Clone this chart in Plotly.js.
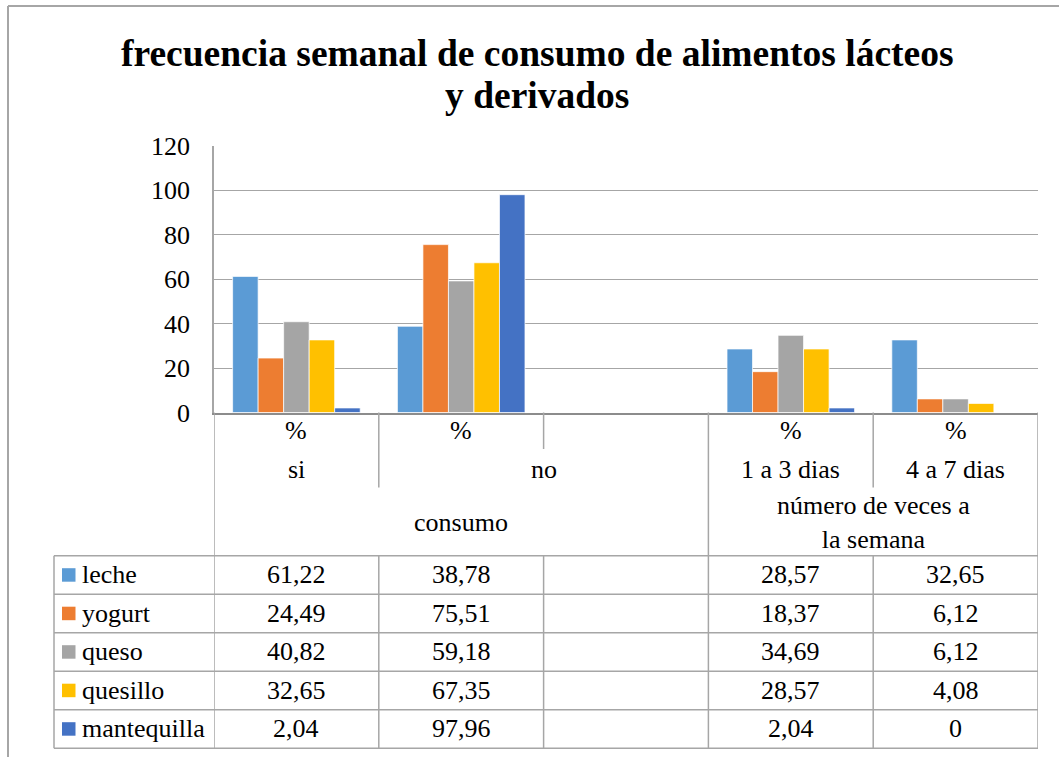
<!DOCTYPE html>
<html><head><meta charset="utf-8">
<script src="https://cdn.plot.ly/plotly-3.0.1.min.js"></script>
<style>html,body{margin:0;padding:0;background:#fff}#chart{width:1059px;height:757px}</style>
</head><body><div id="chart"></div>
<script>
// ---- data ----
const categories = ["si", "no", "", "1 a 3 dias", "4 a 7 dias"];
const level1Labels = ["%", "%", "", "%", "%"];
const level2Labels = ["si", "no", "1 a 3 dias", "4 a 7 dias"];
const level2Start = [0, 1, 3, 4];
const level2End = [0, 2, 3, 4];
const level3Labels = ["consumo", "número de veces a<br>la semana"];
const level3Start = [0, 3];
const level3End = [2, 4];
const seriesNames = ["leche", "yogurt", "queso", "quesillo", "mantequilla"];
const leche = [61.22, 38.78, null, 28.57, 32.65];
const yogurt = [24.49, 75.51, null, 18.37, 6.12];
const queso = [40.82, 59.18, null, 34.69, 6.12];
const quesillo = [32.65, 67.35, null, 28.57, 4.08];
const mantequilla = [2.04, 97.96, null, 2.04, 0];
const yTicks = [0, 20, 40, 60, 80, 100, 120];
const titleLines = ["frecuencia semanal de consumo de alimentos lácteos", "y derivados"];

// ---- style / layout ----
const seriesValues = [leche, yogurt, queso, quesillo, mantequilla];
const colors = ["#5B9BD5", "#ED7D31", "#A5A5A5", "#FFC000", "#4472C4"];
const W = 1059, H = 757;
const FONT = "'Liberation Serif', 'Times New Roman', serif";
const FS = 26;
const py = v => 1 - v / H;
const px = v => v / W;
const xDomain = [px(214), px(1038)];
const yDomain = [py(412.5), py(145.7)];
const L1_BOTTOM = 449, L2_BOTTOM = 487.5, TABLE_TOP = 555.7, ROW_H = 38.5;
const TABLE_BOTTOM = TABLE_TOP + ROW_H * seriesNames.length;
const LEG_LEFT = 54;
const lineCol = "#a6a6a6", gridCol = "#a6a6a6", axisCol = "#8c8c8c";

const xIdx = categories.map((_, i) => i);
const traces = seriesNames.map((n, k) => ({
  type: "bar", name: n, x: xIdx, y: seriesValues[k],
  marker: { color: colors[k], line: { color: "rgba(255,255,255,0.7)", width: 1 } },
  hoverinfo: "name+y"
}));

const shapes = [];
const annotations = [];
function vline(x, y0, y1, col, w) {
  shapes.push({ type: "line", xref: "x", yref: "paper", x0: x, x1: x, y0: py(y0), y1: py(y1), line: { color: col || lineCol, width: w || 1.5 } });
}
function hlinePaper(x0, x1, y, col, w) {
  shapes.push({ type: "line", xref: "paper", yref: "paper", x0: x0, x1: x1, y0: py(y), y1: py(y), line: { color: col || lineCol, width: w || 1.5 } });
}

// outer chart border (cropped)
shapes.push({ type: "line", xref: "paper", yref: "paper", x0: px(8), x1: px(8), y0: 0, y1: py(6), line: { color: "#a6a6a6", width: 2 } });
shapes.push({ type: "line", xref: "paper", yref: "paper", x0: px(8), x1: 1, y0: py(6), y1: py(6), line: { color: "#a6a6a6", width: 2 } });

// category axis edges and dividers
const n = categories.length;
vline(-0.5, 412.5, TABLE_BOTTOM);
vline(n - 0.5, 412.5, TABLE_BOTTOM);
for (let b = 1; b < n; b++) {
  let depth = L1_BOTTOM;
  if (level2Start.includes(b)) depth = L2_BOTTOM;
  if (level3Start.includes(b)) depth = TABLE_TOP;
  vline(b - 0.5, 412.5, depth);
  vline(b - 0.5, TABLE_TOP, TABLE_BOTTOM);
}

// level labels
const labFont = { family: FONT, size: FS, color: "#000" };
level1Labels.forEach((t, i) => {
  if (t) annotations.push({ xref: "x", yref: "paper", x: i, y: py((412.5 + L1_BOTTOM) / 2), text: t, showarrow: false, font: labFont, xanchor: "center", yanchor: "middle" });
});
level2Labels.forEach((t, j) => {
  annotations.push({ xref: "x", yref: "paper", x: (level2Start[j] + level2End[j]) / 2, y: py((L1_BOTTOM + L2_BOTTOM) / 2 + 1), text: t, showarrow: false, font: labFont, xanchor: "center", yanchor: "middle" });
});
level3Labels.forEach((t, j) => {
  annotations.push({ xref: "x", yref: "paper", x: (level3Start[j] + level3End[j]) / 2, y: py((L2_BOTTOM + TABLE_TOP) / 2 + 1), text: t, showarrow: false, font: labFont, xanchor: "center", yanchor: "middle" });
});

// data table
for (let r = 0; r <= seriesNames.length; r++) {
  hlinePaper(px(LEG_LEFT), xDomain[1], TABLE_TOP + r * ROW_H);
}
shapes.push({ type: "line", xref: "paper", yref: "paper", x0: px(LEG_LEFT), x1: px(LEG_LEFT), y0: py(TABLE_TOP), y1: py(TABLE_BOTTOM), line: { color: lineCol, width: 1.5 } });
const fmt = v => (v === null || v === undefined) ? "" : (v === 0 ? "0" : v.toFixed(2).replace(".", ","));
seriesNames.forEach((name, r) => {
  const cy = TABLE_TOP + (r + 0.5) * ROW_H;
  shapes.push({ type: "rect", xref: "paper", yref: "paper", x0: px(62), x1: px(75.5), y0: py(cy + 6.75), y1: py(cy - 6.75), fillcolor: colors[r], line: { width: 0 } });
  annotations.push({ xref: "paper", yref: "paper", x: px(80), y: py(cy), text: name, showarrow: false, font: labFont, xanchor: "left", yanchor: "middle" });
  seriesValues[r].forEach((v, i) => {
    const t = fmt(v);
    if (t) annotations.push({ xref: "x", yref: "paper", x: i, y: py(cy), text: t, showarrow: false, font: labFont, xanchor: "center", yanchor: "middle" });
  });
});

// title (two lines)
const titleY = [53, 95];
titleLines.forEach((t, k) => {
  annotations.push({ xref: "paper", yref: "paper", x: px(537), y: py(titleY[k]), text: "<b>" + t + "</b>", showarrow: false, font: { family: FONT, size: 37.5, color: "#000" }, xanchor: "center", yanchor: "middle" });
});

const layout = {
  width: W, height: H,
  margin: { l: 0, r: 0, t: 0, b: 0 },
  paper_bgcolor: "#fff", plot_bgcolor: "#fff",
  showlegend: false,
  font: { family: FONT },
  barmode: "group", bargap: 0.226, bargroupgap: 0,
  xaxis: { domain: xDomain, range: [-0.5, n - 0.5], showticklabels: false, ticks: "", showgrid: false, zeroline: false,
           showline: true, linecolor: axisCol, linewidth: 2, fixedrange: true },
  yaxis: { domain: yDomain, range: [0, 120], tickvals: yTicks, ticktext: yTicks.map(String), showgrid: true, gridcolor: gridCol, gridwidth: 1.3,
           zeroline: false, showline: true, linecolor: lineCol, linewidth: 1.5, ticks: "outside", ticklen: 17, tickcolor: "rgba(0,0,0,0)",
           tickfont: { family: FONT, size: FS, color: "#000" }, fixedrange: true },
  shapes: shapes,
  annotations: annotations
};
Plotly.newPlot("chart", traces, layout, { displayModeBar: false });
</script>
</body></html>
